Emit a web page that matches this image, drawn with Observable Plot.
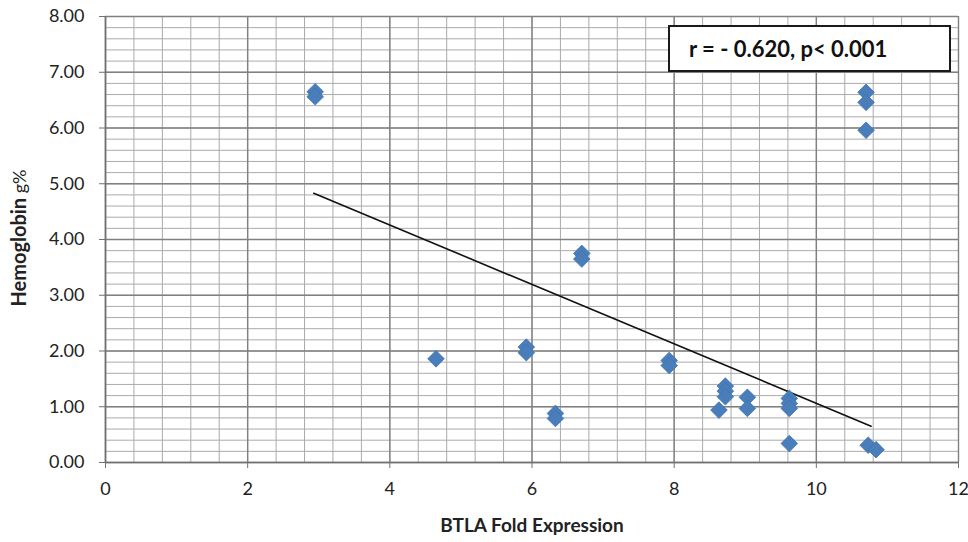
<!DOCTYPE html>
<html><head><meta charset="utf-8">
<script src="https://cdn.jsdelivr.net/npm/d3@7"></script>
<script src="https://cdn.jsdelivr.net/npm/@observablehq/plot@0.6"></script>
<style>
body{margin:0;background:#fff;}
#wrap{position:relative;width:968px;height:542px;}
#note{position:absolute;left:668px;top:25px;width:279px;height:43px;border:2px solid #1a1a1a;background:#fff;
  font:bold 22px Lato, sans-serif;color:#111;box-sizing:content-box;}
#note span{position:absolute;left:19px;top:8px;white-space:nowrap;}
</style></head>
<body><div id="wrap"></div>
<script>
// Data
const btla = [2.95, 2.95, 4.65, 5.92, 5.92, 6.33, 6.33, 6.70, 6.70, 7.93, 7.93, 8.63, 8.72, 8.72, 8.72, 9.03, 9.03, 9.62, 9.62, 9.62, 9.62, 10.70, 10.70, 10.70, 10.73, 10.84];
const hemoglobin = [6.65, 6.56, 1.86, 2.07, 1.97, 0.88, 0.79, 3.75, 3.65, 1.83, 1.74, 0.94, 1.37, 1.28, 1.18, 1.17, 0.97, 1.15, 1.06, 0.97, 0.34, 6.64, 6.46, 5.96, 0.31, 0.23];
const trendX = [2.93, 10.77];
const trendY = [4.83, 0.65];
const xTicks = [0, 2, 4, 6, 8, 10, 12];
const yTicks = [0, 1, 2, 3, 4, 5, 6, 7, 8];
const xMinor = d3.range(0, 31).map(i => i * 0.4);
const yMinor = d3.range(0, 41).map(i => i * 0.2);
const xLabel = "BTLA Fold Expression";
const yLabelMain = "Hemoglobin";
const yLabelUnit = " g%";
const noteText = "r = - 0.620, p< 0.001";

const points = btla.map((x, i) => ({x, y: hemoglobin[i]}));
const trend = trendX.map((x, i) => ({x, y: trendY[i]}));

const chart = Plot.plot({
  width: 968, height: 542,
  marginLeft: 105, marginRight: 10, marginTop: 16, marginBottom: 80,
  style: {fontFamily: "Lato, sans-serif", fontSize: "18px", color: "#222", background: "#fff"},
  x: {domain: [0, 12]},
  y: {domain: [0, 8]},
  marks: [
    Plot.ruleX(xMinor, {stroke: "#aaaaaa", strokeWidth: 1}),
    Plot.ruleY(yMinor, {stroke: "#aaaaaa", strokeWidth: 1}),
    Plot.ruleX(xTicks, {stroke: "#808080", strokeWidth: 1.4}),
    Plot.ruleY(yTicks, {stroke: "#808080", strokeWidth: 1.4}),
    Plot.ruleX([0], {stroke: "#707070", strokeWidth: 1.6}),
    Plot.ruleY([0], {stroke: "#707070", strokeWidth: 1.6}),
    Plot.axisX({ticks: xTicks, tickSize: 6, tickPadding: 14, label: null, stroke: "#707070"}),
    Plot.axisY({ticks: yTicks, tickFormat: d => d.toFixed(2), tickSize: 6, tickPadding: 15, label: null, stroke: "#707070"}),
    Plot.line(trend, {x: "x", y: "y", stroke: "#111", strokeWidth: 1.6}),
    Plot.dot(points, {x: "x", y: "y", symbol: "diamond2", r: 7.5, fill: "#4a7ebb", stroke: "#3f72ad", strokeWidth: 0.8})
  ]
});

const svg = d3.select(chart);
svg.append("text")
  .attr("x", 532).attr("y", 532)
  .attr("text-anchor", "middle")
  .attr("font-family", "Lato, sans-serif")
  .attr("font-size", 19).attr("font-weight", "bold").attr("fill", "#222")
  .text(xLabel);
const yl = svg.append("text")
  .attr("transform", "translate(26,238) rotate(-90)")
  .attr("text-anchor", "middle")
  .attr("font-family", "Lato, sans-serif")
  .attr("fill", "#222");
yl.append("tspan").attr("font-size", 20).attr("font-weight", "bold").text(yLabelMain);
yl.append("tspan").attr("font-size", 18).attr("font-weight", "normal").text(yLabelUnit);

const wrap = document.getElementById("wrap");
wrap.appendChild(chart);
const note = document.createElement("div");
note.id = "note";
const sp = document.createElement("span");
sp.textContent = noteText;
note.appendChild(sp);
wrap.appendChild(note);
</script>
</body></html>
